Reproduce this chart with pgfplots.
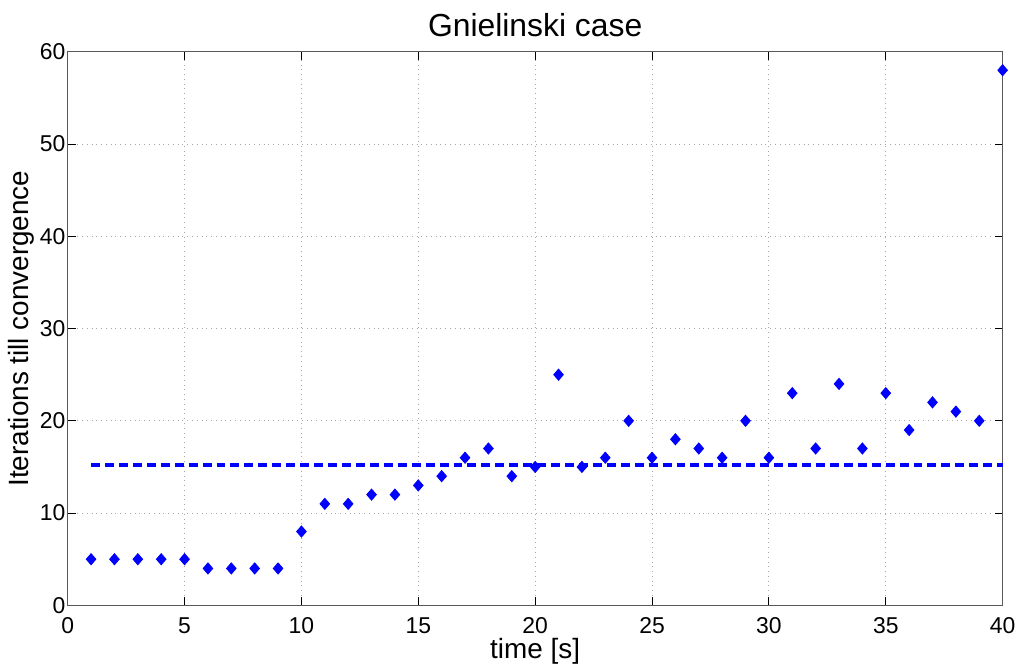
\documentclass[border=0pt]{standalone}
\usepackage{fontspec}
\setmainfont{Liberation Sans}
\usepackage{pgfplots}
\pgfplotsset{compat=1.18}
\definecolor{mblue}{RGB}{0,0,255}

\pgfplotstableread{
t it
1 5
2 5
3 5
4 5
5 5
6 4
7 4
8 4
9 4
10 8
11 11
12 11
13 12
14 12
15 13
16 14
17 16
18 17
19 14
20 15
21 25
22 15
23 16
24 20
25 16
26 18
27 17
28 16
29 20
30 16
31 23
32 17
33 24
34 17
35 23
36 19
37 22
38 21
39 20
40 58
}\iters

\begin{document}
\begin{tikzpicture}
\begin{axis}[
  scale only axis,
  width=469.5pt, height=278pt,
  xmin=0, xmax=40, ymin=0, ymax=60,
  xtick={0,5,...,40}, ytick={0,10,...,60},
  tick align=inside, major tick length=4pt,
  tick style={black, line width=0.5pt},
  axis line style={line width=0.6pt, gray!70!black},
  grid=major, grid style={dotted, gray!70, line width=0.5pt},
  ticklabel style={font=\fontsize{11.5}{13}\selectfont},
  /pgf/number format/assume math mode=true,
  xticklabel style={yshift=-2.5pt},
  yticklabel style={xshift=2.3pt},
  xlabel={time [s]}, ylabel={Iterations till convergence},
  label style={font=\fontsize{14}{16}\selectfont},
  xlabel style={yshift=4.5pt},
  ylabel style={yshift=-4pt},
  title={Gnielinski case},
  title style={font=\fontsize{16}{18}\selectfont, yshift=-2pt},
  clip=false,
]
\path ([xshift=-34pt,yshift=-29pt]rel axis cs:0,0) rectangle ([xshift=7.5pt,yshift=26pt]rel axis cs:1,1);
\addplot[mblue, line width=2pt, dash pattern=on 4.5pt off 2.5pt] coordinates {(1,15.175) (40,15.175)};
\addplot[only marks, mark=diamond*, mark size=2.8pt, mark options={xscale=1.15}, mblue] table[x=t, y=it] {\iters};
\end{axis}
\end{tikzpicture}
\end{document}
